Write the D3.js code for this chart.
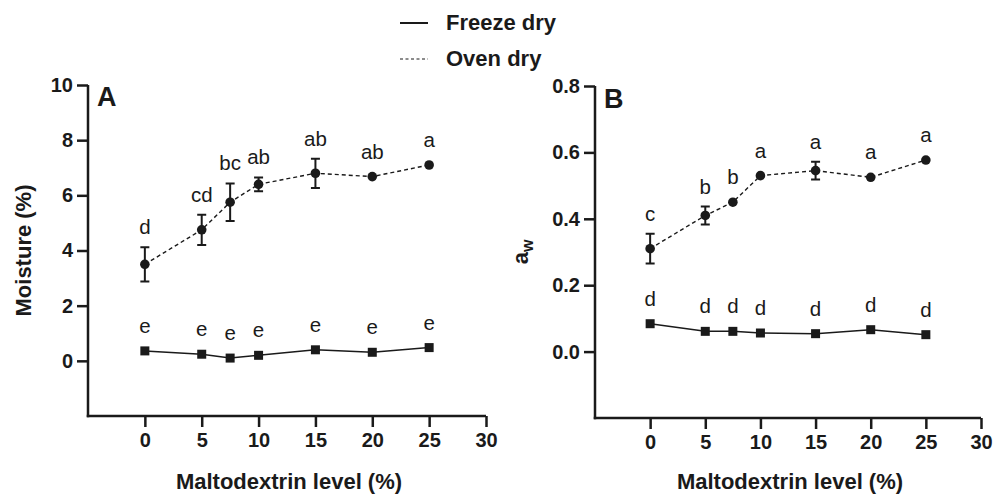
<!DOCTYPE html>
<html>
<head>
<meta charset="utf-8">
<script src="https://cdn.jsdelivr.net/npm/d3@7"></script>
<style>
  body { margin: 0; background: #fff; }
  svg { display: block; font-family: "Liberation Sans", Arial, sans-serif; }
</style>
</head>
<body>
<svg id="chart" width="993" height="496"></svg>
<script>
// maltodextrin levels (%)
const levels = [0, 5, 7.5, 10, 15, 20, 25];
const xTicks = [0, 5, 10, 15, 20, 25, 30];

// panel A: moisture (%)
const moistureFreeze = [0.36, 0.24, 0.1, 0.2, 0.4, 0.31, 0.48];
const moistureOven = [3.5, 4.75, 5.75, 6.4, 6.8, 6.68, 7.1];
const moistureOvenErr = [0.62, 0.55, 0.68, 0.25, 0.53, 0.05, 0.18];
const moistureFreezeLetters = ["e", "e", "e", "e", "e", "e", "e"];
const moistureOvenLetters = ["d", "cd", "bc", "ab", "ab", "ab", "a"];
const moistureTicks = [0, 2, 4, 6, 8, 10];

// panel B: water activity
const awFreeze = [0.084, 0.061, 0.061, 0.056, 0.054, 0.066, 0.051];
const awOven = [0.31, 0.41, 0.45, 0.53, 0.545, 0.525, 0.577];
const awOvenErr = [0.045, 0.027, 0.004, 0.004, 0.027, 0.004, 0.004];
const awFreezeLetters = ["d", "d", "d", "d", "d", "d", "d"];
const awOvenLetters = ["c", "b", "b", "a", "a", "a", "a"];
const awTicks = [0, 0.2, 0.4, 0.6, 0.8];

const svg = d3.select("#chart");

function panel(opts) {
  const x = d3.scaleLinear().domain([-5, 30]).range(opts.xRange);
  const y = d3.scaleLinear().domain(opts.yDomain).range(opts.yRange);
  const g = svg.append("g");

  // axes
  const xAxis = g.append("g")
    .attr("transform", `translate(0,${opts.yRange[0]})`)
    .call(d3.axisBottom(x).tickValues(xTicks).tickSize(11).tickSizeOuter(0).tickPadding(6));
  const yAxis = g.append("g")
    .attr("transform", `translate(${opts.xRange[0]},0)`)
    .call(d3.axisLeft(y).tickValues(opts.yTicks).tickFormat(opts.fmt).tickSize(11).tickSizeOuter(0).tickPadding(4));
  [xAxis, yAxis].forEach((a) => {
    a.selectAll("path, line").attr("stroke", "#1a1a1a").attr("stroke-width", 2.5);
    a.selectAll("text")
      .attr("fill", "#1a1a1a")
      .attr("font-size", 20)
      .attr("font-weight", "bold")
      .attr("font-family", "Liberation Sans, Arial, sans-serif");
  });
  yAxis.select(".domain").attr("d", `M0,${opts.yRange[1]}V${opts.yRange[0] + 1.25}`);
  xAxis.select(".domain").attr("d", `M${opts.xRange[0] - 1.25},0H${opts.xRange[1]}`);

  // axis titles
  g.append("text")
    .attr("x", (opts.xRange[0] + opts.xRange[1]) / 2 + 2)
    .attr("y", 489)
    .attr("text-anchor", "middle")
    .attr("font-size", 22)
    .attr("font-weight", "bold")
    .attr("fill", "#1a1a1a")
    .text("Maltodextrin level (%)");
  const yt = g.append("text")
    .attr("transform", `translate(${opts.yTitleX},${(opts.yRange[0] + opts.yRange[1]) / 2}) rotate(-90)`)
    .attr("text-anchor", "middle")
    .attr("font-size", 22)
    .attr("font-weight", "bold")
    .attr("fill", "#1a1a1a");
  opts.yTitle(yt);

  // panel letter
  g.append("text")
    .attr("x", opts.xRange[0] + 9)
    .attr("y", opts.letterY)
    .attr("font-size", 27)
    .attr("font-weight", "bold")
    .attr("fill", "#1a1a1a")
    .text(opts.letter);

  const line = d3.line().x((d) => x(d[0])).y((d) => y(d[1]));
  const zeros = levels.map(() => 0);

  function series(vals, errs, letters, shape, dashed) {
    const pts = levels.map((l, i) => [l, vals[i], errs[i], letters[i]]);
    g.append("path")
      .datum(pts)
      .attr("fill", "none")
      .attr("stroke", "#1a1a1a")
      .attr("stroke-width", dashed ? 1.4 : 1.5)
      .attr("stroke-dasharray", dashed ? "4,3" : null)
      .attr("d", line);

    // error bars (hidden when shorter than the marker)
    pts.filter((d) => y(d[1]) - y(d[1] + d[2]) > 6).forEach((d) => {
      const cx = x(d[0]);
      const y0 = y(d[1] - d[2]), y1 = y(d[1] + d[2]);
      g.append("path")
        .attr("d", `M${cx},${y0}V${y1}M${cx - 4.5},${y0}H${cx + 4.5}M${cx - 4.5},${y1}H${cx + 4.5}`)
        .attr("stroke", "#1a1a1a")
        .attr("stroke-width", 2)
        .attr("fill", "none");
    });

    if (shape === "circle") {
      g.selectAll(null).data(pts).join("circle")
        .attr("cx", (d) => x(d[0]))
        .attr("cy", (d) => y(d[1]))
        .attr("r", 4.8)
        .attr("fill", "#1a1a1a");
    } else {
      g.selectAll(null).data(pts).join("rect")
        .attr("x", (d) => x(d[0]) - 4.5)
        .attr("y", (d) => y(d[1]) - 4.5)
        .attr("width", 9)
        .attr("height", 9)
        .attr("fill", "#1a1a1a");
    }

    // significance letters
    g.selectAll(null).data(pts).join("text")
      .attr("x", (d) => x(d[0]))
      .attr("y", (d) => Math.min(y(d[1] + d[2]), y(d[1]) - 5) - 13)
      .attr("text-anchor", "middle")
      .attr("font-size", 20.5)
      .attr("fill", "#1a1a1a")
      .text((d) => d[3]);
  }

  series(opts.freeze, zeros, opts.freezeLetters, "square", false);
  series(opts.oven, opts.ovenErr, opts.ovenLetters, "circle", true);
}

panel({
  xRange: [88, 486],
  yDomain: [-2, 10],
  yRange: [416, 85],
  yTicks: moistureTicks,
  fmt: d3.format("d"),
  yTitleX: 31,
  yTitle: (t) => t.text("Moisture (%)"),
  letter: "A",
  letterY: 106,
  freeze: moistureFreeze,
  oven: moistureOven,
  ovenErr: moistureOvenErr,
  freezeLetters: moistureFreezeLetters,
  ovenLetters: moistureOvenLetters
});

panel({
  xRange: [595, 981],
  yDomain: [-0.2, 0.8],
  yRange: [418, 86],
  yTicks: awTicks,
  fmt: d3.format(".1f"),
  yTitleX: 528,
  yTitle: (t) => {
    t.append("tspan").text("a");
    t.append("tspan").attr("font-size", 16).attr("dy", 5).text("w");
  },
  letter: "B",
  letterY: 108,
  freeze: awFreeze,
  oven: awOven,
  ovenErr: awOvenErr,
  freezeLetters: awFreezeLetters,
  ovenLetters: awOvenLetters
});

// legend
const legendItems = [
  { label: "Freeze dry", dash: null, width: 2, y: 23, ty: 30 },
  { label: "Oven dry", dash: "3,2.5", width: 1.2, y: 59, ty: 65.5 }
];
const legend = svg.append("g");
legendItems.forEach((d) => {
  legend.append("line")
    .attr("x1", 400).attr("x2", 428)
    .attr("y1", d.y).attr("y2", d.y)
    .attr("stroke", "#1a1a1a")
    .attr("stroke-width", d.width)
    .attr("stroke-dasharray", d.dash);
  legend.append("text")
    .attr("x", 446)
    .attr("y", d.ty)
    .attr("font-size", 22)
    .attr("font-weight", "bold")
    .attr("fill", "#1a1a1a")
    .text(d.label);
});
</script>
</body>
</html>
